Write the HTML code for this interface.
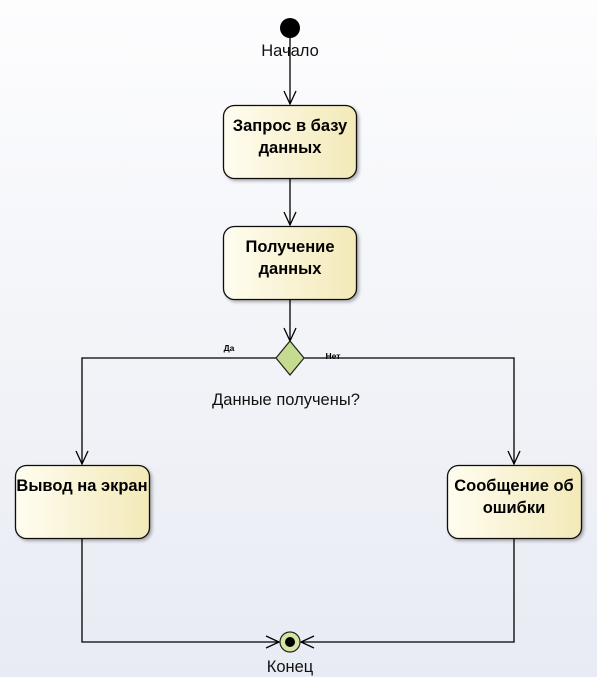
<!DOCTYPE html>
<html><head><meta charset="utf-8"><style>
html,body{margin:0;padding:0;}
body{width:597px;height:677px;overflow:hidden;background:linear-gradient(180deg,#fdfdfe,#e8ebf3);}
svg{display:block;font-family:"Liberation Sans","DejaVu Sans",sans-serif;}
</style></head><body>
<svg width="597" height="677" viewBox="0 0 597 677">
<defs>
<linearGradient id="g" x1="0" y1="0" x2="1" y2="0">
<stop offset="0" stop-color="#fffdf0"/><stop offset="1" stop-color="#f3e9b8"/>
</linearGradient>
<filter id="s" x="-10%" y="-10%" width="130%" height="130%"><feDropShadow dx="2" dy="2" stdDeviation="1.5" flood-color="#000" flood-opacity="0.3"/></filter>
</defs>
<g stroke="#000" stroke-width="1.3" fill="none">
<line x1="290" y1="28" x2="290" y2="104"/>
<polyline points="284,91 290,104 296,91"/>
<line x1="290" y1="179" x2="290" y2="225"/>
<polyline points="284,212 290,225 296,212"/>
<line x1="290" y1="300" x2="290" y2="341"/>
<polyline points="284,328 290,341 296,328"/>
<polyline points="276,358 82,358 82,464"/>
<polyline points="76,451 82,464 88,451"/>
<polyline points="304,358 514,358 514,464"/>
<polyline points="508,451 514,464 520,451"/>
<polyline points="82,539 82,642 279,642"/>
<polyline points="266,636 279,642 266,648"/>
<polyline points="514,539 514,642 301,642"/>
<polyline points="314,636 301,642 314,648"/>
</g>
<circle cx="290" cy="28" r="10" fill="#000"/>
<text x="290" y="56" font-size="16.5" text-anchor="middle" fill="#111">Начало</text>
<g filter="url(#s)" stroke="#111" stroke-width="1.3" fill="url(#g)">
<rect x="223.5" y="105.5" width="133" height="73" rx="11"/>
<rect x="223.5" y="226.5" width="133" height="73" rx="11"/>
<rect x="15.5" y="465.5" width="134" height="73" rx="11"/>
<rect x="447.5" y="465.5" width="134" height="73" rx="11"/>
</g>
<g font-size="16.5" font-weight="bold" text-anchor="middle" fill="#000">
<text x="290" y="131">Запрос в базу</text>
<text x="290" y="153">данных</text>
<text x="290" y="252">Получение</text>
<text x="290" y="274">данных</text>
<text x="82" y="491">Вывод на экран</text>
<text x="514" y="491">Сообщение об</text>
<text x="514" y="513">ошибки</text>
</g>
<polygon points="290,341 304,358 290,375 276,358" fill="#c5db8f" stroke="#222" stroke-width="1.2"/>
<text x="229" y="351" font-size="8.5" font-weight="bold" text-anchor="middle">Да</text>
<text x="333" y="359" font-size="8.5" font-weight="bold" text-anchor="middle">Нет</text>
<text x="286" y="405" font-size="16.5" text-anchor="middle" fill="#111">Данные получены?</text>
<circle cx="290" cy="642" r="10" fill="#d5e6a2" stroke="#222" stroke-width="1.2"/>
<circle cx="290" cy="642" r="5" fill="#000"/>
<text x="290" y="672" font-size="16.5" text-anchor="middle" fill="#111">Конец</text>
</svg>
</body></html>
